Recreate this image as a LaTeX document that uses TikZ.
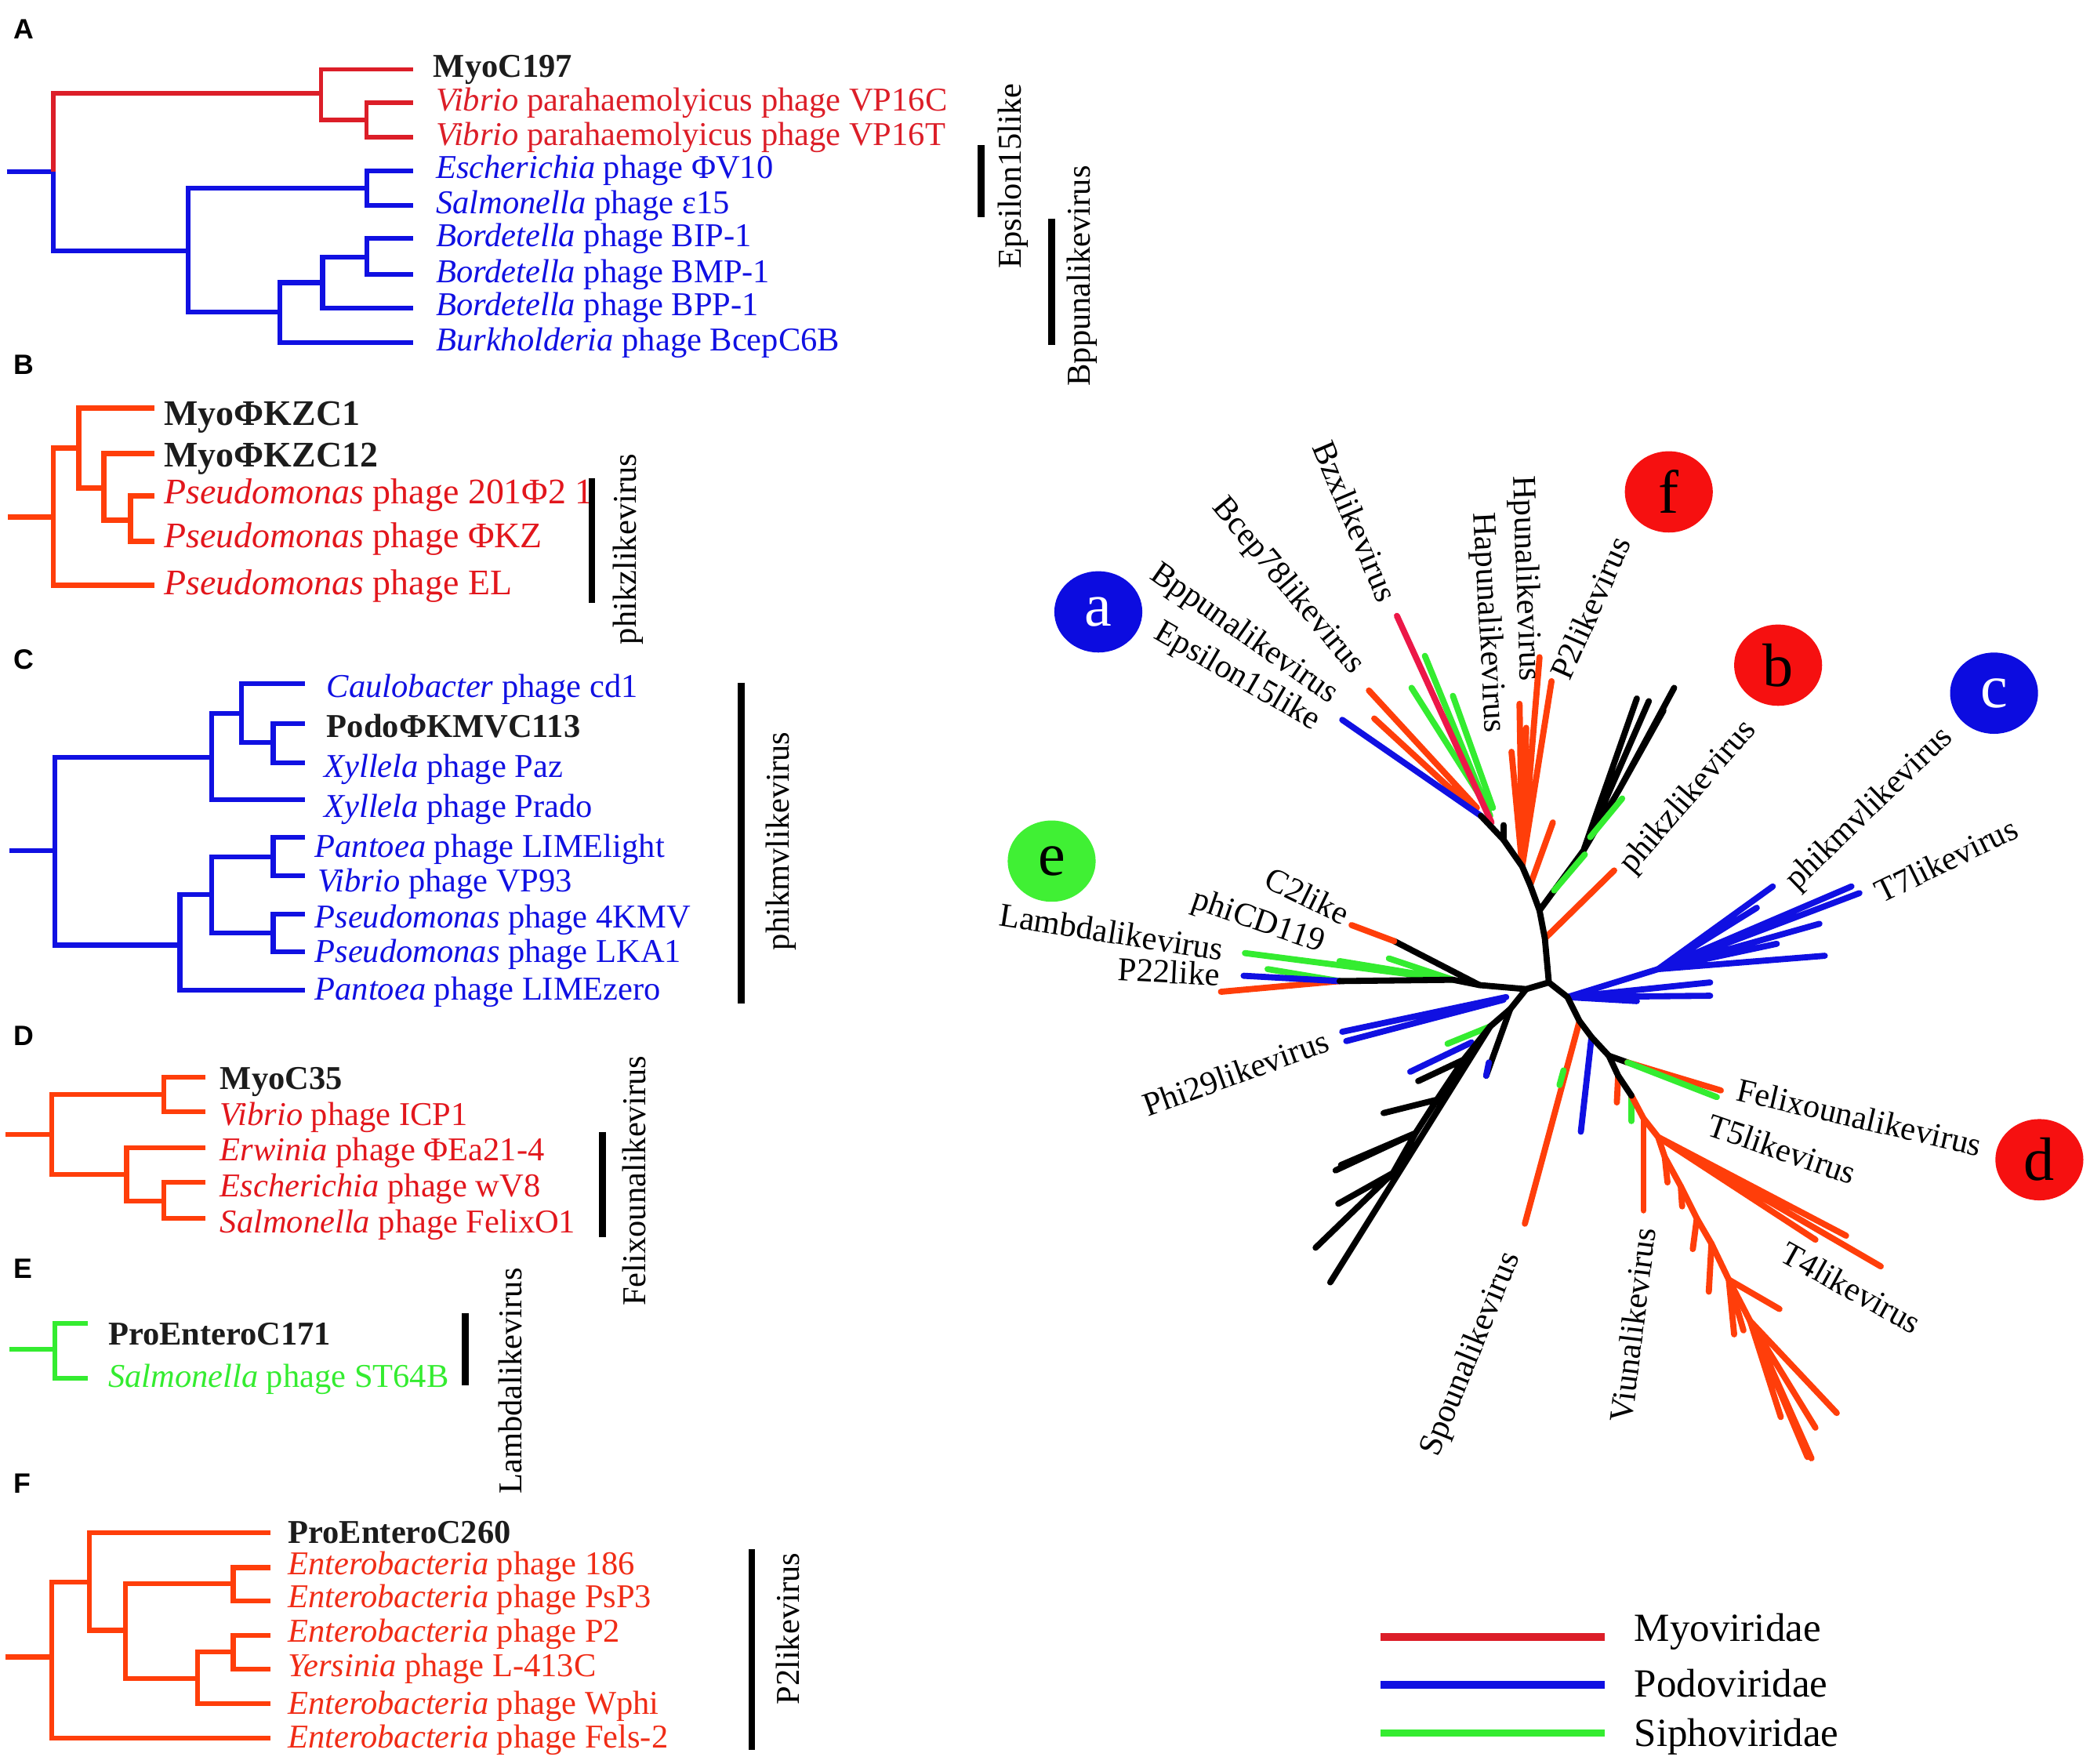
\documentclass[tikz,border=0pt]{standalone}
\usepackage{fontspec}
\setmainfont{Liberation Serif}
\newfontfamily\panelfont{Liberation Sans}
\usetikzlibrary{
    shapes.geometric
}

\definecolor{myored}{RGB}{220,30,40}
\definecolor{myoorange}{RGB}{255,62,10}
\definecolor{labred}{RGB}{226,22,28}
\definecolor{laborange}{RGB}{240,44,22}
\definecolor{podoblue}{RGB}{16,16,226}
\definecolor{siphogreen}{RGB}{52,236,48}
\definecolor{bzxred}{RGB}{236,24,72}
\definecolor{namegray}{RGB}{28,28,28}
\definecolor{badgered}{RGB}{246,16,16}
\definecolor{badgeblue}{RGB}{12,12,224}
\definecolor{badgegreen}{RGB}{64,240,52}

\newcommand{\labsize}{\fontsize{25}{30}\selectfont}

\begin{document}
\begin{tikzpicture}[
    x=1pt, y=-1pt,
    panel/.style={anchor=base west, inner sep=0pt, font=\panelfont\bfseries\fontsize{21}{25}\selectfont},
    lab/.style={anchor=base west, inner sep=0pt, font=\labsize},
    boldlab/.style={lab, font=\labsize\bfseries, text=namegray},
    clade/.style={rotate=90, inner sep=0pt, font=\labsize},
    grp/.style={inner sep=0pt, font=\labsize},
    bar/.style={line width=5pt},
    myo/.style={line width=3.2pt, draw=myored},
    myoor/.style={line width=3.6pt, draw=myoorange},
    podo/.style={line width=3.6pt, draw=podoblue},
    sipho/.style={line width=3.6pt, draw=siphogreen},
    ur/.style={line width=4.6pt, line cap=round, line join=round},
    umyo/.style={ur, draw=myoorange},
    upodo/.style={ur, draw=podoblue},
    usipho/.style={ur, draw=siphogreen},
    ubzx/.style={ur, draw=bzxred},
    ublack/.style={ur, draw=black},
    badge/.style={ellipse, minimum width=66pt, minimum height=61pt, inner sep=0pt, font=\fontsize{46}{46}\selectfont},
    key/.style={line width=5.5pt},
    keylab/.style={anchor=base west, inner sep=0pt, font=\fontsize{30}{36}\selectfont}
  ]

  \useasboundingbox (0,0) rectangle (1568,1323);

  % A {{{
  \node[panel] (pA) at (10,29) {A};
  \draw[podo] (5,129) -- (40,129);
  \draw[myo] (40,129) |- (241,70);
  \draw[myo] (241,70) |- (310,52) (241,70) |- (275,90);
  \draw[myo] (275,90) |- (310,77) (275,90) |- (310,103);
  \draw[podo] (40,129) |- (141,188);
  \draw[podo] (141,188) |- (275,141) (141,188) |- (210,234);
  \draw[podo] (275,141) |- (310,128) (275,141) |- (310,154);
  \draw[podo] (210,234) |- (242,212) (210,234) |- (310,257);
  \draw[podo] (242,212) |- (275,193) (242,212) |- (310,231);
  \draw[podo] (275,193) |- (310,179) (275,193) |- (310,206);
  \node[boldlab] (myoC197) at (325,58) {MyoC197};
  \node[lab, text=myored] (vp16c) at (327,83) {\textit{Vibrio} parahaemolyicus phage VP16C};
  \node[lab, text=myored] (vp16t) at (327,109) {\textit{Vibrio} parahaemolyicus phage VP16T};
  \node[lab, text=podoblue] (phiV10) at (327,134) {\textit{Escherichia} phage ΦV10};
  \node[lab, text=podoblue] (eps15) at (327,160) {\textit{Salmonella} phage ε15};
  \node[lab, text=podoblue] (bip1) at (327,185) {\textit{Bordetella} phage BIP-1};
  \node[lab, text=podoblue] (bmp1) at (327,212) {\textit{Bordetella} phage BMP-1};
  \node[lab, text=podoblue] (bpp1) at (327,237) {\textit{Bordetella} phage BPP-1};
  \node[lab, text=podoblue] (bcepC6B) at (327,263) {\textit{Burkholderia} phage BcepC6B};
  \draw[bar] (736,109) -- (736,163);
  \draw[bar] (789,164) -- (789,259);
  \node[clade] (epsLike) at (760,132) {Epsilon15like};
  \node[clade] (bppLike) at (812,207) {Bppunalikevirus};
  % }}}

  % B {{{
  \node[panel] (pB) at (10,281) {B};
  \draw[myoor, line width=4pt] (6,388) -- (40,388);
  \draw[myoor, line width=4pt] (40,388) |- (59,336) (40,388) |- (116,439);
  \draw[myoor, line width=4pt] (59,336) |- (116,306) (59,336) |- (78,366);
  \draw[myoor, line width=4pt] (78,366) |- (116,340) (78,366) |- (98,390);
  \draw[myoor, line width=4pt] (98,390) |- (116,372) (98,390) |- (116,406);
  \node[boldlab, font=\fontsize{27}{32}\selectfont\bfseries] (kzc1) at (123,319) {MyoΦKZC1};
  \node[boldlab, font=\fontsize{27}{32}\selectfont\bfseries] (kzc12) at (123,350) {MyoΦKZC12};
  \node[lab, text=labred, font=\fontsize{27}{32}\selectfont] (p201) at (123,378) {\textit{Pseudomonas} phage 201Φ2 1};
  \node[lab, text=labred, font=\fontsize{27}{32}\selectfont] (phiKZ) at (123,411) {\textit{Pseudomonas} phage ΦKZ};
  \node[lab, text=labred, font=\fontsize{27}{32}\selectfont] (pEL) at (123,446) {\textit{Pseudomonas} phage EL};
  \draw[bar] (444,359) -- (444,452);
  \node[clade] (kzLike) at (471,412) {phikzlikevirus};
  % }}}

  % C {{{
  \node[panel] (pC) at (10,502) {C};
  \draw[podo] (7,638) -- (41,638);
  \draw[podo] (41,638) |- (159,568) (41,638) |- (135,709);
  \draw[podo] (159,568) |- (181,535) (159,568) |- (229,600);
  \draw[podo] (181,535) |- (229,513) (181,535) |- (205,557);
  \draw[podo] (205,557) |- (229,543) (205,557) |- (229,572);
  \draw[podo] (135,709) |- (159,671) (135,709) |- (229,743);
  \draw[podo] (159,671) |- (205,643) (159,671) |- (205,700);
  \draw[podo] (205,643) |- (229,628) (205,643) |- (229,657);
  \draw[podo] (205,700) |- (229,686) (205,700) |- (229,714);
  \node[lab, text=podoblue] (cd1) at (245,523) {\textit{Caulobacter} phage cd1};
  \node[boldlab] (kmvc113) at (245,553) {PodoΦKMVC113};
  \node[lab, text=podoblue] (paz) at (243,583) {\textit{Xyllela} phage Paz};
  \node[lab, text=podoblue] (prado) at (243,613) {\textit{Xyllela} phage Prado};
  \node[lab, text=podoblue] (limelight) at (236,643) {\textit{Pantoea} phage LIMElight};
  \node[lab, text=podoblue] (vp93) at (238,669) {\textit{Vibrio} phage VP93};
  \node[lab, text=podoblue] (kmv4) at (236,696) {\textit{Pseudomonas} phage 4KMV};
  \node[lab, text=podoblue] (lka1) at (236,722) {\textit{Pseudomonas} phage LKA1};
  \node[lab, text=podoblue] (limezero) at (236,750) {\textit{Pantoea} phage LIMEzero};
  \draw[bar] (556,512) -- (556,753);
  \node[clade] (kmvLike) at (586,631) {phikmvlikevirus};
  % }}}

  % D {{{
  \node[panel] (pD) at (10,784) {D};
  \draw[myoor] (4,851) -- (39,851);
  \draw[myoor] (39,851) |- (123,821) (39,851) |- (95,881);
  \draw[myoor] (123,821) |- (154,808) (123,821) |- (154,834);
  \draw[myoor] (95,881) |- (154,861) (95,881) |- (123,901);
  \draw[myoor] (123,901) |- (154,887) (123,901) |- (154,914);
  \node[boldlab] (myoC35) at (165,817) {MyoC35};
  \node[lab, text=labred] (icp1) at (165,844) {\textit{Vibrio} phage ICP1};
  \node[lab, text=labred] (ea214) at (165,871) {\textit{Erwinia} phage ΦEa21-4};
  \node[lab, text=labred] (wv8) at (165,898) {\textit{Escherichia} phage wV8};
  \node[lab, text=labred] (felixO1) at (165,925) {\textit{Salmonella} phage FelixO1};
  \draw[bar] (452,849) -- (452,928);
  \node[clade] (felixLike) at (476,886) {Felixounalikevirus};
  % }}}

  % E {{{
  \node[panel] (pE) at (10,959) {E};
  \draw[sipho] (7,1012) -- (41,1012);
  \draw[sipho] (41,1012) |- (66,993) (41,1012) |- (66,1034);
  \node[boldlab] (enteroC171) at (81,1009) {ProEnteroC171};
  \node[lab, text=siphogreen] (st64b) at (81,1041) {\textit{Salmonella} phage ST64B};
  \draw[bar] (349,985) -- (349,1039);
  \node[clade] (lambdaLike) at (383,1036) {Lambdalikevirus};
  % }}}

  % F {{{
  \node[panel] (pF) at (10,1120) {F};
  \draw[myoor] (4,1243) -- (39,1243);
  \draw[myoor] (39,1243) |- (67,1187) (39,1243) |- (203,1304);
  \draw[myoor] (67,1187) |- (203,1150) (67,1187) |- (94,1223);
  \draw[myoor] (94,1223) |- (175,1188) (94,1223) |- (148,1259);
  \draw[myoor] (175,1188) |- (203,1176) (175,1188) |- (203,1201);
  \draw[myoor] (148,1259) |- (175,1239) (148,1259) |- (203,1278);
  \draw[myoor] (175,1239) |- (203,1227) (175,1239) |- (203,1252);
  \node[boldlab] (enteroC260) at (216,1158) {ProEnteroC260};
  \node[lab, text=laborange] (e186) at (216,1181) {\textit{Enterobacteria} phage 186};
  \node[lab, text=laborange] (psp3) at (216,1206) {\textit{Enterobacteria} phage PsP3};
  \node[lab, text=laborange] (eP2) at (216,1232) {\textit{Enterobacteria} phage P2};
  \node[lab, text=laborange] (l413c) at (216,1258) {\textit{Yersinia} phage L-413C};
  \node[lab, text=laborange] (wphi) at (216,1286) {\textit{Enterobacteria} phage Wphi};
  \node[lab, text=laborange] (fels2) at (216,1311) {\textit{Enterobacteria} phage Fels-2};
  \draw[bar] (564,1162) -- (564,1313);
  \node[clade] (p2Like) at (591,1222) {P2likevirus};
  % }}}

  % unrooted tree {{{
  \coordinate (ctrL) at (1145,742);
  \coordinate (ctrR) at (1162,737);
  \coordinate (up1) at (1159,704);
  \coordinate (up2) at (1155,683);
  \coordinate (up3) at (1148,664);
  \coordinate (up4) at (1142,650);
  \coordinate (up5) at (1128,630);
  \coordinate (up6) at (1111,612);
  \coordinate (bk1) at (1188,638);
  \coordinate (bk2) at (1215,592);
  \coordinate (lr1) at (1176,748);
  \coordinate (lr2) at (1185,766);
  \coordinate (lr3) at (1194,778);
  \coordinate (lr4) at (1207,792);
  \coordinate (lr5) at (1214,807);
  \coordinate (lr6) at (1224,822);
  \coordinate (fx) at (1221,797);
  \coordinate (cb) at (1244,727);
  \coordinate (t1) at (1233,839);
  \coordinate (t2) at (1244,853);
  \coordinate (t3) at (1249,868);
  \coordinate (t4) at (1261,890);
  \coordinate (t5) at (1273,914);
  \coordinate (t6) at (1284,933);
  \coordinate (t7) at (1297,960);
  \coordinate (t8) at (1313,991);
  \coordinate (ll1) at (1133,757);
  \coordinate (ll2) at (1118,770);
  \coordinate (k1) at (1098,795);
  \coordinate (k2) at (1078,825);
  \coordinate (k3) at (1062,850);
  \coordinate (k4) at (1045,880);
  \coordinate (m1) at (1110,739);
  \coordinate (m2) at (1090,735);
  \coordinate (m3) at (1005,736);
  \coordinate (c1) at (1046,706);

  % a / f side
  \draw[usipho] (1118,612) -- (1069,492) (1116,606) -- (1059,516) (1120,606) -- (1090,522);
  \draw[ubzx] (1119,617) -- (1048,462);
  \draw[umyo] (1108,606) -- (1027,518) (1106,608) -- (1031,539);
  \draw[upodo] (up6) -- (1007,540);
  \draw[umyo] (up4) -- (1155,493) (up4) -- (1164,511) (up4) -- (1145,546) (up4) -- (1140,528) (up4) -- (1134,564);
  \draw[umyo] (up3) -- (1165,617);
  \draw[ublack] (up5) -- (1128,619);
  % b side
  \draw[ublack] (up2) -- (bk1) -- (1228,524) (bk1) -- (1237,526) (bk1) -- (bk2) -- (1248,533) (bk2) -- (1256,516);
  \draw[usipho] (1166,668) -- (1189,641) (1193,628) -- (1217,599);
  \draw[umyo] (up1) -- (1211,653);
  % c side
  \draw[upodo] (lr1) -- (cb);
  \draw[upodo] (cb) -- (1330,665) (cb) -- (1318,681) (cb) -- (1395,670) (cb) -- (1389,665) (cb) -- (1365,693) (cb) -- (1369,717) (cb) -- (1333,708);
  \draw[upodo] (lr1) -- (1283,737) (lr1) -- (1283,747) (lr1) -- (1228,751);
  % d side
  \draw[umyo] (lr2) -- (1144,918);
  \draw[usipho] (1173,803) -- (1170,814);
  \draw[upodo] (lr3) -- (1186,849);
  \draw[ublack] (lr4) -- (fx);
  \draw[umyo] (fx) -- (1291,818);
  \draw[usipho] (fx) -- (1288,823);
  \draw[umyo] (lr5) -- (1213,827);
  \draw[usipho] (lr6) -- (1224,841);
  \draw[umyo] (lr6) -- (t1) -- (t2) -- (t3) -- (t4) -- (t5) -- (t6) -- (t7) -- (t8);
  \draw[umyo] (t1) -- (1233,908);
  \draw[umyo] (t2) -- (1411,950) (t2) -- (1385,927) (t2) -- (1362,930) (t2) -- (1303,891);
  \draw[umyo] (t3) -- (1251,887) (t4) -- (1262,905) (t5) -- (1270,937) (t6) -- (1282,969);
  \draw[umyo] (t7) -- (1335,982) (t7) -- (1301,1001) (t7) -- (1308,998);
  \draw[umyo] (t8) -- (1336,1063) (t8) -- (1362,1071) (t8) -- (1378,1060) (t8) -- (1359,1094) (t8) -- (1356,1093);
  % lower left
  \draw[ublack] (ll1) -- (1115,807);
  \draw[upodo] (1117,797) -- (1115,807);
  \draw[usipho] (ll2) -- (1086,783);
  \draw[upodo] (1104,782) -- (1058,804);
  \draw[ublack] (ll2) -- (k1) -- (1064,811) (k1) -- (k2) -- (1038,835) (k2) -- (k3) -- (1002,878) (k3) -- (1006,874) (k3) -- (k4) -- (987,936) (k4) -- (1004,903) (ll2) -- (998,962);
  \draw[upodo] (1130,748) -- (1007,774) (1128,750) -- (1010,781);
  % e side
  \draw[usipho] (m2) -- (934,715) (1005,736) -- (951,727) (m2) -- (1005,721) (m2) -- (1042,719);
  \draw[umyo] (m3) -- (916,744);
  \draw[upodo] (m3) -- (933,732);
  \draw[ublack] (m1) -- (c1);
  \draw[umyo] (c1) -- (1014,694);
  % trunk
  \draw[ublack] (m3) -- (m2) -- (m1) -- (ctrL) -- (ctrR) -- (up1) -- (up2) -- (up3) -- (up4) -- (up5) -- (up6);
  \draw[ublack] (ctrR) -- (lr1) -- (lr2) -- (lr3) -- (lr4) -- (lr5) -- (lr6);
  \draw[ublack] (ctrL) -- (ll1) -- (ll2);

  \node[grp, rotate=-67] (bzx) at (1017,391) {Bzxlikevirus};
  \node[grp, rotate=-50] (bcep78) at (966,440) {Bcep78likevirus};
  \node[grp, rotate=-35] (bppuna) at (933,476) {Bppunalikevirus};
  \node[grp, rotate=-30] (eps15like) at (928,508) {Epsilon15like};
  \node[grp, rotate=-87] (hapuna) at (1116,467) {Hapunalikevirus};
  \node[grp, rotate=-88] (hpuna) at (1144,434) {Hpunalikevirus};
  \node[grp, rotate=66] (p2like) at (1193,456) {P2likevirus};
  \node[grp, rotate=49] (phikz) at (1267,598) {phikzlikevirus};
  \node[grp, rotate=44] (phikmv) at (1403,607) {phikmvlikevirus};
  \node[grp, rotate=26] (t7like) at (1460,645) {T7likevirus};
  \node[grp, rotate=-13] (felixouna) at (1395,838) {Felixounalikevirus};
  \node[grp, rotate=-19] (t5like) at (1337,862) {T5likevirus};
  \node[grp, rotate=-29] (t4like) at (1389,966) {T4likevirus};
  \node[grp, rotate=83] (viuna) at (1225,994) {Viunalikevirus};
  \node[grp, rotate=68] (spouna) at (1104,1016) {Spounalikevirus};
  \node[grp, rotate=20] (phi29) at (927,805) {Phi29likevirus};
  \node[grp, rotate=-3] (p22like) at (877,729) {P22like};
  \node[grp, rotate=-9] (lambdalike) at (834,699) {Lambdalikevirus};
  \node[grp, rotate=-19] (phicd119) at (944,692) {phiCD119};
  \node[grp, rotate=-26] (c2like) at (981,672) {C2like};

  \node[badge, fill=badgeblue, text=white] (ba) at (824,459) {a};
  \node[badge, fill=badgered] (bb) at (1334,499) {b};
  \node[badge, fill=badgeblue, text=white] (bc) at (1496,520) {c};
  \node[badge, fill=badgered] (bd) at (1530,870) {d};
  \node[badge, fill=badgegreen] (be) at (789,646) {e};
  \node[badge, fill=badgered] (bf) at (1252,369) {f};
  % }}}

  % legend {{{
  \draw[key, draw=myored] (1036,1228) -- (1204,1228);
  \draw[key, draw=podoblue] (1036,1264) -- (1204,1264);
  \draw[key, draw=siphogreen] (1036,1300) -- (1204,1300);
  \node[keylab] (kMyo) at (1226,1231) {Myoviridae};
  \node[keylab] (kPodo) at (1226,1273) {Podoviridae};
  \node[keylab] (kSipho) at (1226,1310) {Siphoviridae};
  % }}}

\end{tikzpicture}
\end{document}
